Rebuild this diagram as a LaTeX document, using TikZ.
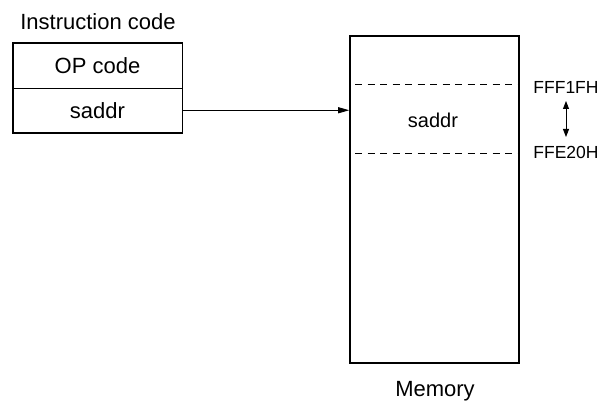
\documentclass[tikz,border=0pt]{standalone}
\usepackage{fontspec}
\setmainfont{Liberation Sans}
\usetikzlibrary{arrows.meta}
\tikzset{
  field/.style={draw, line width=0.8pt, minimum width=169pt, minimum height=44.5pt, inner sep=0pt, font=\fontsize{22}{24}\selectfont},
  addr/.style={font=\fontsize{17.5}{19}\selectfont},
  tip/.style={line width=0.9pt},
}
\begin{document}
\begin{tikzpicture}[x=1pt,y=1pt]
\useasboundingbox (0,0) rectangle (603,405);
\node at (98,383) {\fontsize{22}{24}\selectfont Instruction code};
\node[field] (op) at (97.5,339.25) {OP code};
\node[field] (sa) at (97.5,294.75) {saddr};
\draw[line width=1.6pt] (op.north west) rectangle (sa.south east);
\node[draw, line width=1.6pt, minimum width=169pt, minimum height=327pt, inner sep=0pt] (mem) at (434.5,205.5) {};
\coordinate (top) at (355,321);
\coordinate (bot) at (355,252);
\draw[dash pattern=on 7pt off 5.5pt, line width=0.8pt] (top) -- ([xshift=-2pt]top -| mem.east);
\draw[dash pattern=on 7pt off 5.5pt, line width=0.8pt] (bot) -- ([xshift=-2pt]bot -| mem.east);
\node at (433,285) {\fontsize{20}{22}\selectfont saddr};
\draw[tip, -{Triangle[length=11pt,width=6pt]}] (sa.east) -- (sa.east -| mem.west);
\node[addr] (hi) at (566,318) {FFF1FH};
\node[addr] (lo) at (566,253) {FFE20H};
\draw[tip, {Triangle[length=8pt,width=6pt]}-{Triangle[length=8pt,width=6pt]}] (566,304) -- (566,268);
\node at (435,14) {\fontsize{22}{24}\selectfont Memory};
\end{tikzpicture}
\end{document}
